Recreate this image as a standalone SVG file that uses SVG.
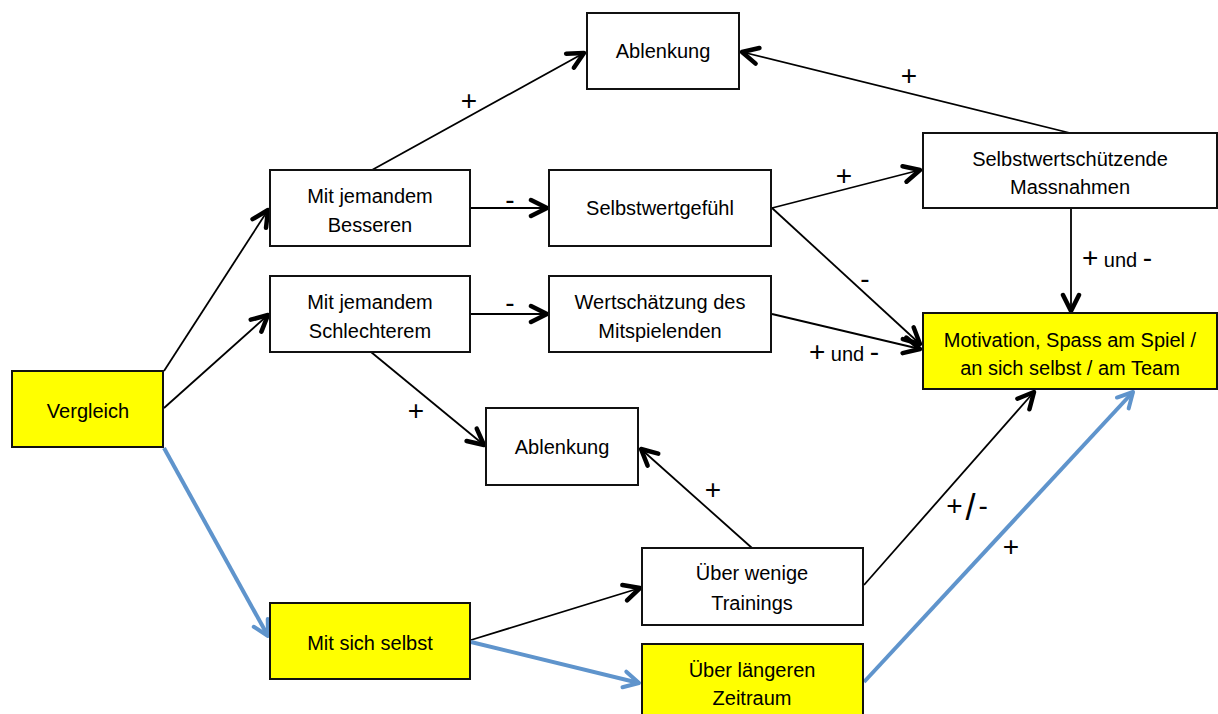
<svg xmlns="http://www.w3.org/2000/svg" width="1218" height="714" viewBox="0 0 1218 714">
<style>
.box{fill:#fff;stroke:#111;stroke-width:2}
.hl{fill:#ffff00;stroke:#111;stroke-width:2}
.t{font-family:"Liberation Sans",Arial,sans-serif;font-size:20px;fill:#000;text-anchor:middle}
.lb{font-family:"Liberation Sans",Arial,sans-serif;font-size:28px;fill:#000;text-anchor:middle}
.c{stroke:#000;stroke-width:1.8;fill:none;marker-end:url(#ah)}
.b{stroke:#5f94cc;stroke-width:4;fill:none;marker-end:url(#ahb)}
</style>
<defs>
<marker id="ah" viewBox="-20 -12 23 24" refX="0" refY="0" markerWidth="23" markerHeight="24" markerUnits="userSpaceOnUse" orient="auto">
<path d="M-16,-8 L0,0 L-16,8" fill="none" stroke="#000" stroke-width="4.5" stroke-linecap="round" stroke-linejoin="round"/>
</marker>
<marker id="ahb" viewBox="-20 -12 23 24" refX="0" refY="0" markerWidth="23" markerHeight="24" markerUnits="userSpaceOnUse" orient="auto">
<path d="M-15,-8 L0,0 L-15,8" fill="none" stroke="#5f94cc" stroke-width="4" stroke-linecap="round" stroke-linejoin="round"/>
</marker>
</defs>
<rect width="1218" height="714" fill="#fff"/>
<g id="connectors">
<line class="c" x1="164" y1="371" x2="268" y2="210"/>
<line class="c" x1="164" y1="408" x2="268" y2="315"/>
<line class="c" x1="471" y1="208" x2="547" y2="208"/>
<line class="c" x1="471" y1="314" x2="547" y2="314"/>
<line class="c" x1="372" y1="170" x2="584" y2="53"/>
<line class="c" x1="371" y1="352" x2="484" y2="445"/>
<line class="c" x1="772" y1="208" x2="920" y2="170"/>
<line class="c" x1="772" y1="208" x2="920" y2="344"/>
<line class="c" x1="772" y1="314" x2="920" y2="349"/>
<line class="c" x1="1070" y1="133" x2="742" y2="52"/>
<line class="c" x1="1071" y1="208" x2="1071" y2="311"/>
<line class="c" x1="752" y1="548" x2="641" y2="449"/>
<line class="c" x1="864" y1="585" x2="1034" y2="392"/>
<line class="c" x1="471" y1="640" x2="640" y2="588"/>
<line class="b" x1="164" y1="448" x2="268" y2="636"/>
<line class="b" x1="471" y1="642" x2="639" y2="683"/>
<line class="b" x1="864" y1="682" x2="1133" y2="392"/>
<text class="lb" x="469" y="110">+</text>
<text class="lb" x="510" y="209">-</text>
<text class="lb" x="510" y="312">-</text>
<text class="lb" x="416" y="420">+</text>
<text class="lb" x="844" y="185">+</text>
<text class="lb" x="909" y="85">+</text>
<text class="lb" x="865" y="288">-</text>
<text class="lb" x="844" y="361"><tspan>+</tspan><tspan font-size="20"> und </tspan><tspan>-</tspan></text>
<text class="lb" x="1117" y="267"><tspan>+</tspan><tspan font-size="20"> und </tspan><tspan>-</tspan></text>
<text class="lb" x="713" y="499">+</text>
<text class="lb" x="967" y="515"><tspan>+</tspan><tspan font-size="36" dx="3" dy="5">/</tspan><tspan dx="3" dy="-5">-</tspan></text>
<text class="lb" x="1011" y="556">+</text>
</g>
<g id="n-vergleich"><rect class="hl" x="12" y="371" width="151" height="76"/><text class="t" x="88" y="418">Vergleich</text></g>
<g id="n-besseren"><rect class="box" x="270" y="170" width="200" height="76"/><text class="t" x="370" y="203">Mit jemandem</text><text class="t" x="370" y="232">Besseren</text></g>
<g id="n-schlechterem"><rect class="box" x="270" y="276" width="200" height="76"/><text class="t" x="370" y="309">Mit jemandem</text><text class="t" x="370" y="338">Schlechterem</text></g>
<g id="n-ablenkung1"><rect class="box" x="587" y="13" width="152" height="76"/><text class="t" x="663" y="58">Ablenkung</text></g>
<g id="n-selbstwert"><rect class="box" x="549" y="170" width="222" height="76"/><text class="t" x="660" y="215">Selbstwertgefühl</text></g>
<g id="n-wertschaetzung"><rect class="box" x="549" y="276" width="222" height="76"/><text class="t" x="660" y="309">Wertschätzung des</text><text class="t" x="660" y="338">Mitspielenden</text></g>
<g id="n-schuetzende"><rect class="box" x="923" y="133" width="294" height="75"/><text class="t" x="1070" y="166">Selbstwertschützende</text><text class="t" x="1070" y="194">Massnahmen</text></g>
<g id="n-motivation"><rect class="hl" x="923" y="313" width="294" height="76"/><text class="t" x="1070" y="347">Motivation, Spass am Spiel /</text><text class="t" x="1070" y="375">an sich selbst / am Team</text></g>
<g id="n-ablenkung2"><rect class="box" x="486" y="408" width="152" height="77"/><text class="t" x="562" y="454">Ablenkung</text></g>
<g id="n-selbst"><rect class="hl" x="270" y="603" width="200" height="76"/><text class="t" x="370" y="650">Mit sich selbst</text></g>
<g id="n-wenige"><rect class="box" x="642" y="548" width="221" height="77"/><text class="t" x="752" y="580">Über wenige</text><text class="t" x="752" y="610">Trainings</text></g>
<g id="n-laenger"><rect class="hl" x="642" y="644" width="221" height="77"/><text class="t" x="752" y="677">Über längeren</text><text class="t" x="752" y="705">Zeitraum</text></g>
</svg>
